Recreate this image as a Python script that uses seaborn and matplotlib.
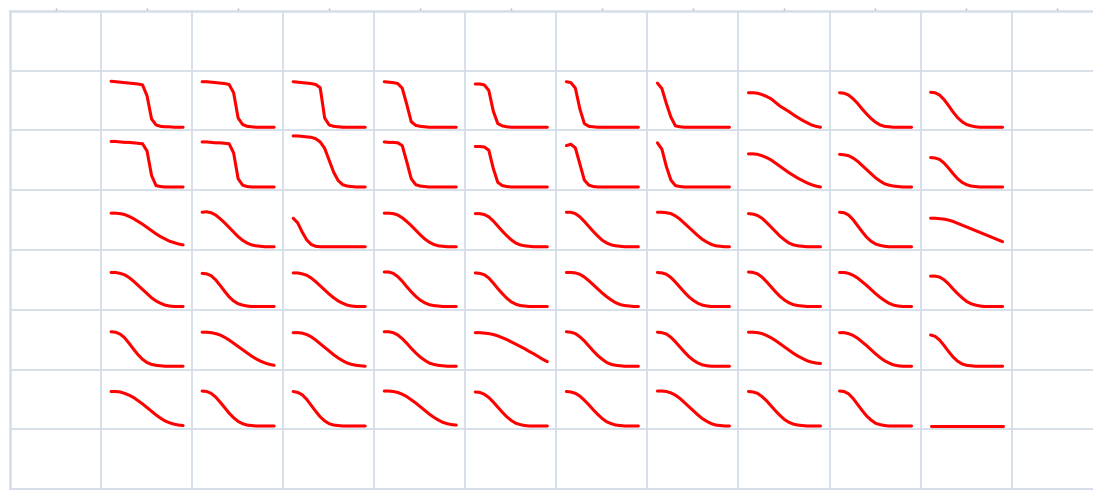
import matplotlib
matplotlib.use("Agg")
import matplotlib.pyplot as plt
import seaborn as sns
import pandas as pd

# normalized sampling positions along each well's temperature sweep
T = [0, 0.0625, 0.125, 0.1875, 0.25, 0.3125, 0.375, 0.4375, 0.5,
     0.5625, 0.625, 0.6875, 0.75, 0.8125, 0.875, 0.9375, 1.0]

# normalized fluorescence per well (row by row, columns 1..10)
ROW_1 = [
    [1.00, .99, .98, .97, .96, .95, .94, .92, .68, .18, .05, .02, .01, .01, 0, 0, 0],
    [.99, .99, .98, .97, .96, .95, .93, .75, .20, .06, .02, .01, 0, 0, 0, 0, 0],
    [.99, .98, .97, .96, .95, .93, .86, .20, .05, .02, .01, 0, 0, 0, 0, 0, 0],
    [.99, .98, .97, .95, .85, .50, .12, .04, .02, .01, 0, 0, 0, 0, 0, 0, 0],
    [.94, .94, .92, .80, .35, .08, .03, .01, 0, 0, 0, 0, 0, 0, 0, 0, 0],
    [.99, .97, .85, .40, .08, .02, .01, 0, 0, 0, 0, 0, 0, 0, 0, 0, 0],
    [.96, .84, .51, .22, .03, .01, 0, 0, 0, 0, 0, 0, 0, 0, 0, 0, 0],
    [.75, .75, .74, .71, .67, .62, .54, .46, .40, .34, .27, .21, .15, .10, .05, .02, 0],
    [.75, .74, .70, .62, .52, .40, .29, .19, .11, .05, .02, .01, 0, 0, 0, 0, 0],
    [.76, .75, .70, .60, .47, .33, .21, .12, .06, .03, .01, 0, 0, 0, 0, 0, 0],
]
ROW_2 = [
    [.99, .99, .98, .97, .97, .96, .95, .94, .78, .25, .03, .01, 0, 0, 0, 0, 0],
    [.98, .98, .97, .96, .96, .95, .94, .74, .18, .04, .01, 0, 0, 0, 0, 0, 0],
    [1.11, 1.11, 1.10, 1.09, 1.08, 1.05, .98, .84, .58, .32, .14, .05, .02, .01, 0, 0, 0],
    [.98, .97, .97, .96, .90, .55, .18, .05, .02, .01, 0, 0, 0, 0, 0, 0, 0],
    [.88, .88, .87, .80, .40, .10, .03, .01, 0, 0, 0, 0, 0, 0, 0, 0, 0],
    [.90, .93, .85, .50, .15, .04, .01, 0, 0, 0, 0, 0, 0, 0, 0, 0, 0],
    [.96, .82, .44, .15, .03, .01, 0, 0, 0, 0, 0, 0, 0, 0, 0, 0, 0],
    [.72, .72, .71, .68, .64, .59, .52, .45, .38, .31, .25, .19, .14, .09, .05, .02, 0],
    [.71, .70, .68, .63, .56, .47, .38, .29, .20, .13, .07, .04, .02, .01, 0, 0, 0],
    [.64, .63, .60, .52, .41, .29, .18, .10, .05, .02, .01, 0, 0, 0, 0, 0, 0],
]
ROW_3 = [
    [.73, .73, .72, .70, .66, .61, .55, .49, .42, .35, .28, .22, .17, .12, .09, .06, .04],
    [.75, .76, .74, .69, .61, .52, .42, .32, .22, .14, .08, .04, .02, .01, 0, 0, 0],
    [.62, .52, .32, .15, .05, .01, 0, 0, 0, 0, 0, 0, 0, 0, 0, 0, 0],
    [.73, .73, .72, .69, .63, .55, .46, .36, .26, .17, .10, .05, .02, .01, 0, 0, 0],
    [.72, .72, .70, .65, .56, .45, .34, .24, .15, .08, .04, .02, .01, 0, 0, 0, 0],
    [.75, .75, .72, .65, .55, .44, .33, .23, .14, .08, .04, .02, .01, 0, 0, 0, 0],
    [.75, .75, .74, .72, .67, .60, .51, .42, .33, .24, .16, .10, .05, .02, .01, 0, 0],
    [.72, .71, .68, .62, .53, .43, .33, .23, .15, .08, .04, .02, .01, 0, 0, 0, 0],
    [.75, .74, .69, .59, .46, .33, .21, .12, .06, .03, .01, 0, 0, 0, 0, 0, 0],
    [.62, .62, .61, .60, .58, .55, .51, .47, .43, .39, .35, .31, .27, .23, .19, .15, .11],
]
ROW_4 = [
    [.74, .74, .72, .69, .63, .55, .46, .37, .28, .19, .12, .07, .03, .01, 0, 0, 0],
    [.72, .71, .67, .58, .46, .33, .21, .12, .06, .03, .01, 0, 0, 0, 0, 0, 0],
    [.73, .73, .71, .68, .62, .54, .45, .36, .27, .19, .12, .07, .03, .01, 0, 0, 0],
    [.75, .75, .72, .65, .55, .43, .32, .22, .14, .08, .04, .02, .01, 0, 0, 0, 0],
    [.73, .72, .69, .62, .51, .39, .28, .18, .10, .05, .02, .01, 0, 0, 0, 0, 0],
    [.74, .74, .73, .70, .64, .56, .47, .38, .29, .21, .14, .08, .04, .02, .01, 0, 0],
    [.74, .73, .70, .63, .53, .42, .31, .21, .13, .07, .03, .01, 0, 0, 0, 0, 0],
    [.75, .74, .71, .64, .54, .43, .32, .22, .14, .08, .04, .02, .01, 0, 0, 0, 0],
    [.74, .74, .72, .68, .62, .54, .46, .37, .28, .20, .13, .07, .03, .01, 0, 0, 0],
    [.66, .66, .64, .58, .49, .38, .28, .19, .11, .06, .03, .01, 0, 0, 0, 0, 0],
]
ROW_5 = [
    [.75, .74, .70, .62, .50, .37, .25, .15, .08, .04, .02, .01, 0, 0, 0, 0, 0],
    [.74, .74, .73, .71, .68, .63, .57, .50, .43, .36, .29, .22, .16, .11, .07, .04, .02],
    [.73, .73, .72, .69, .64, .57, .49, .41, .33, .25, .18, .12, .07, .04, .02, .01, 0],
    [.75, .75, .73, .68, .60, .50, .39, .29, .20, .13, .07, .04, .02, .01, 0, 0, 0],
    [.73, .73, .72, .71, .69, .66, .62, .58, .53, .48, .43, .38, .32, .27, .21, .15, .10],
    [.75, .74, .71, .64, .55, .44, .33, .23, .15, .08, .04, .02, .01, 0, 0, 0, 0],
    [.74, .73, .70, .63, .53, .42, .31, .21, .13, .07, .03, .01, 0, 0, 0, 0, 0],
    [.74, .74, .73, .71, .67, .62, .56, .49, .42, .35, .28, .22, .17, .12, .09, .07, .06],
    [.73, .73, .71, .67, .61, .53, .45, .36, .27, .19, .12, .07, .03, .01, 0, 0, 0],
    [.68, .65, .57, .45, .32, .20, .11, .05, .02, .01, 0, 0, 0, 0, 0, 0, 0],
]
ROW_6 = [
    [.75, .75, .74, .71, .67, .62, .55, .48, .40, .32, .24, .17, .11, .07, .04, .02, .01],
    [.76, .75, .71, .63, .52, .40, .28, .18, .10, .05, .02, .01, 0, 0, 0, 0, 0],
    [.75, .73, .68, .58, .45, .32, .20, .11, .05, .02, .01, 0, 0, 0, 0, 0, 0],
    [.76, .76, .75, .73, .69, .64, .57, .50, .42, .34, .26, .19, .13, .08, .05, .03, .02],
    [.74, .73, .69, .62, .52, .41, .30, .20, .12, .06, .03, .01, 0, 0, 0, 0, 0],
    [.75, .74, .71, .65, .56, .46, .35, .25, .16, .09, .05, .02, .01, 0, 0, 0, 0],
    [.76, .76, .75, .72, .67, .60, .51, .42, .33, .24, .16, .10, .05, .02, .01, 0, 0],
    [.75, .74, .71, .64, .55, .44, .33, .23, .14, .08, .04, .02, .01, 0, 0, 0, 0],
    [.76, .75, .70, .60, .47, .34, .22, .13, .06, .03, .01, 0, 0, 0, 0, 0, 0],
    [0, 0, 0, 0, 0, 0, 0, 0, 0, 0, 0, 0, 0, 0, 0, 0, 0],
]
ROWS = [ROW_1, ROW_2, ROW_3, ROW_4, ROW_5, ROW_6]

# ---- layout (grid of cells; each well curve drawn inside its cell) ----
W, H, DPI = 1093, 490, 100
CELL_W, CELL_H = 91.06, 59.75          # pixels per cell
N_COLS, N_ROWS = 12, 8
X_PAD, X_SPAN = 10 / CELL_W, 72 / CELL_W
Y_BASE, Y_SPAN = 56.5 / CELL_H, 46 / CELL_H
GRID = "#d4dde8"

recs = []
for r, row in enumerate(ROWS, start=1):
    for c, vals in enumerate(row, start=1):
        assert len(vals) == len(T)
        for t, v in zip(T, vals):
            recs.append({"well": f"{r}-{c}",
                         "x": c + X_PAD + X_SPAN * t,
                         "y": r + Y_BASE - Y_SPAN * v})
df = pd.DataFrame(recs)

sns.set_style("white")
fig = plt.figure(figsize=(W / DPI, H / DPI), dpi=DPI)
left_px, top_px, bottom_px = 10, 11, 489
ax = fig.add_axes([left_px / W, (H - bottom_px) / H,
                   N_COLS * CELL_W / W, (bottom_px - top_px) / H])

sns.lineplot(data=df, x="x", y="y", units="well", estimator=None, sort=False,
             color="#ff0000", linewidth=2.2, legend=False, ax=ax,
             solid_capstyle="round", solid_joinstyle="round")

ax.set_xlim(0, N_COLS)
ax.set_ylim(N_ROWS, 0)
ax.set_xticks(range(N_COLS + 1))
ax.set_yticks(range(N_ROWS + 1))
ax.set_xticks([i + 0.5 for i in range(N_COLS)], minor=True)
ax.grid(True, which="major", color=GRID, linewidth=1.3)
ax.tick_params(which="major", length=0, labelbottom=False, labelleft=False)
ax.tick_params(which="minor", top=True, bottom=False, length=2.5, width=1,
               color="#b8b8b8", labeltop=False, labelbottom=False)
ax.set_xlabel("")
ax.set_ylabel("")
for side in ["left", "top", "bottom"]:
    ax.spines[side].set_color(GRID)
    ax.spines[side].set_linewidth(1.8)
ax.spines["right"].set_visible(False)

fig.savefig("out.png", dpi=DPI)
